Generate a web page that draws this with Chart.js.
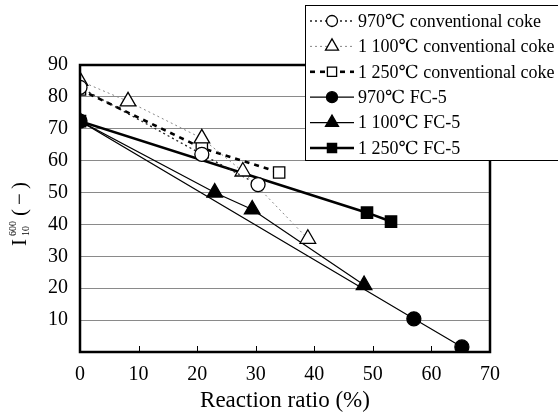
<!DOCTYPE html>
<html>
<head>
<meta charset="utf-8">
<script src="https://cdn.jsdelivr.net/npm/chart.js@4.4.0/dist/chart.umd.min.js"></script>
<style>
  html, body { margin: 0; padding: 0; background: #fff; }
  #wrap { width: 558px; height: 419px; position: relative; }
</style>
</head>
<body>
<div id="wrap"><canvas id="myChart" width="558" height="419"></canvas></div>
<script>
// data
var xTicks = [0, 10, 20, 30, 40, 50, 60, 70];
var yTicks = [10, 20, 30, 40, 50, 60, 70, 80, 90];

var convX970 = [0, 20.8, 30.4];
var convY970 = [83, 62, 52.5];
var convX1100 = [0, 8.2, 20.8, 27.8, 38.9];
var convY1100 = [85, 78.6, 67, 56.6, 35.5];
var convX1250 = [0, 20.8, 34];
var convY1250 = [82.3, 64, 56.3];
var fcX970 = [0, 57, 65.2];
var fcY970 = [72.4, 10.4, 1.6];
var fcX1100 = [0, 23, 29.4, 48.5];
var fcY1100 = [72.4, 50, 44.7, 21];
var fcX1250 = [0, 49, 53.1];
var fcY1250 = [72.4, 43.7, 40.9];

var labels = [
  "970\u2103 conventional coke",
  "1 100\u2103 conventional coke",
  "1 250\u2103 conventional coke",
  "970\u2103 FC-5",
  "1 100\u2103 FC-5",
  "1 250\u2103 FC-5"
];

function pts(xs, ys) {
  return xs.map(function (x, i) { return { x: x, y: ys[i] }; });
}

var serif = "'Liberation Serif', 'DejaVu Serif', serif";

let styles = [
  { pointStyle: "circle", radius: 7, bg: "#fff", border: "#000", lw: 1.3, dash: [2, 3], color: "#222" },
  { pointStyle: "triangle", radius: 9, bg: "#fff", border: "#000", lw: 1, dash: [2, 3], color: "#888" },
  { pointStyle: "rect", radius: 8, bg: "#fff", border: "#000", lw: 2.6, dash: [5, 5], color: "#000" },
  { pointStyle: "circle", radius: 7, bg: "#000", border: "#000", lw: 1.2, dash: [], color: "#000" },
  { pointStyle: "triangle", radius: 9, bg: "#000", border: "#000", lw: 1.2, dash: [], color: "#000" },
  { pointStyle: "rect", radius: 8, bg: "#000", border: "#000", lw: 2.6, dash: [], color: "#000" },
];

var series = [
  pts(convX970, convY970),
  pts(convX1100, convY1100),
  pts(convX1250, convY1250),
  pts(fcX970, fcY970),
  pts(fcX1100, fcY1100),
  pts(fcX1250, fcY1250)
];

let data = {
  datasets: series.map(function (s, i) {
    var st = styles[i];
    return {
      label: labels[i],
      data: s,
      showLine: true,
      borderColor: st.color,
      borderWidth: st.lw,
      borderDash: st.dash,
      pointStyle: st.pointStyle,
      pointRadius: st.radius,
      pointBackgroundColor: st.bg,
      pointBorderColor: st.border,
      pointBorderWidth: 1.3,
      tension: 0
    };
  })
};

// frame, inward x ticks, y title and legend box
const decor = {
  id: "decor",
  afterDatasetsDraw(chart) {
    const ctx = chart.ctx;
    const a = chart.chartArea;
    const xs = chart.scales.x;
    ctx.save();
    // inward ticks on the bottom axis
    ctx.strokeStyle = "#000";
    ctx.lineWidth = 1;
    xTicks.forEach(function (v) {
      var px = Math.round(xs.getPixelForValue(v)) + 0.5;
      ctx.beginPath();
      ctx.moveTo(px, a.bottom);
      ctx.lineTo(px, a.bottom - 6);
      ctx.stroke();
    });
    // plot frame
    ctx.lineWidth = 2.5;
    ctx.strokeRect(a.left, a.top, a.right - a.left, a.bottom - a.top);

    // y axis title: I with 600 / 10, then (-)
    ctx.translate(26, 0);
    ctx.rotate(-Math.PI / 2);
    ctx.fillStyle = "#000";
    ctx.textBaseline = "alphabetic";
    ctx.textAlign = "left";
    ctx.font = "21px " + serif;
    ctx.fillText("I", -246, 0);
    ctx.font = "10px " + serif;
    ctx.fillText("600", -236, -10);
    ctx.fillText("10", -236, 3);
    ctx.font = "21px " + serif;
    ctx.fillText("(", -216, 0);
    ctx.fillText("\u2212", -205, 0);
    ctx.fillText(")", -189, 0);
    ctx.restore();

    // legend box
    ctx.save();
    var lx = 305, ly = 5, lw = 260, lh = 155;
    ctx.fillStyle = "#fff";
    ctx.fillRect(lx, ly, lw, lh);
    ctx.strokeStyle = "#000";
    ctx.lineWidth = 1;
    ctx.strokeRect(lx + 0.5, ly + 0.5, lw, lh);
    chart.data.datasets.forEach(function (ds, i) {
      var cy = 21 + i * 25.4;
      ctx.save();
      ctx.strokeStyle = ds.borderColor;
      ctx.lineWidth = ds.borderWidth;
      ctx.setLineDash(ds.borderDash);
      ctx.beginPath();
      ctx.moveTo(310, cy);
      ctx.lineTo(354, cy);
      ctx.stroke();
      ctx.restore();
      ctx.save();
      ctx.fillStyle = ds.pointBackgroundColor;
      ctx.strokeStyle = ds.pointBorderColor;
      ctx.lineWidth = 1.3;
      Chart.helpers.drawPoint(ctx, {
        pointStyle: ds.pointStyle,
        radius: ds.pointRadius - 1.5,
        borderWidth: 1.3
      }, 332, cy);
      ctx.restore();
      ctx.fillStyle = "#000";
      ctx.font = "18px " + serif;
      ctx.textBaseline = "middle";
      ctx.fillText(ds.label, 358, cy + 1);
    });
    ctx.restore();
  }
};

let config = {
  type: "scatter",
  data: data,
  options: {
    responsive: false,
    animation: false,
    layout: { padding: { top: 65, right: 68, left: 0, bottom: 0 } },
    plugins: { legend: { display: false }, tooltip: { enabled: false } },
    scales: {
      x: {
        type: "linear",
        min: 0,
        max: 70,
        afterFit: function (s) { s.height = 67; },
        afterBuildTicks: function (s) { s.ticks = xTicks.map(function (v) { return { value: v }; }); },
        grid: { display: false },
        border: { display: false },
        ticks: { color: "#000", font: { family: serif, size: 20 }, padding: 3 },
        title: { display: true, text: "Reaction ratio (%)", color: "#000", font: { family: serif, size: 23 }, padding: { top: 0 } }
      },
      y: {
        type: "linear",
        min: 0,
        max: 90,
        afterFit: function (s) { s.width = 80; },
        afterBuildTicks: function (s) { s.ticks = [0].concat(yTicks).map(function (v) { return { value: v }; }); },
        grid: { color: "#8a8a8a", lineWidth: 1, drawTicks: false },
        border: { display: false },
        ticks: {
          color: "#000",
          font: { family: serif, size: 20 },
          padding: 12,
          callback: function (v) { return v === 0 ? "" : v; }
        }
      }
    }
  },
  plugins: [decor]
};

var myChart = new Chart(document.getElementById("myChart"), config);
</script>
</body>
</html>
